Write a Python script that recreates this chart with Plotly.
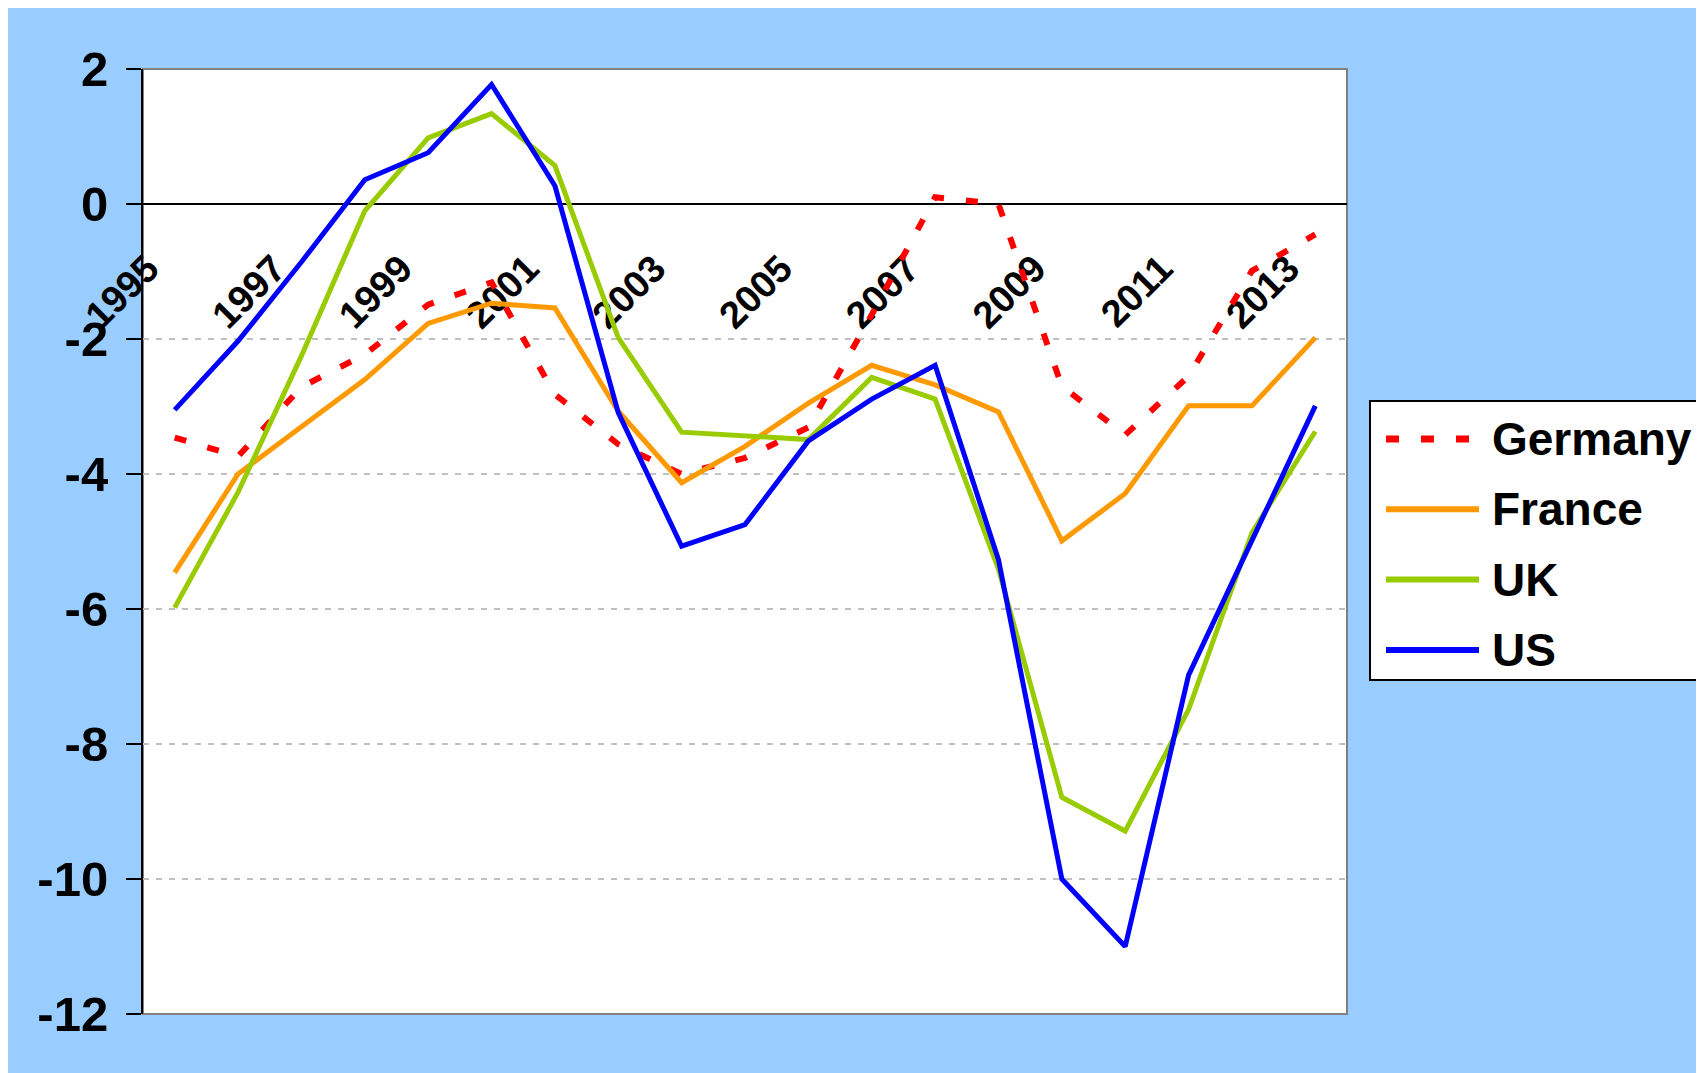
import plotly.graph_objects as go

# ---------------- data ----------------
years = [str(y) for y in range(1995, 2014)]
tick_years = years[::2]
y_ticks = [2, 0, -2, -4, -6, -8, -10, -12]

germany = [-3.46, -3.74, -2.71, -2.23, -1.49, -1.16, -2.82, -3.56, -4.00, -3.76,
           -3.31, -1.64, 0.10, 0.00, -2.70, -3.42, -2.55, -0.99, -0.45]
france = [-5.46, -4.00, -3.30, -2.60, -1.77, -1.47, -1.54, -3.07, -4.13, -3.59,
          -2.95, -2.39, -2.68, -3.08, -4.99, -4.29, -2.99, -2.99, -1.98]
uk = [-5.98, -4.27, -2.25, -0.10, 0.98, 1.34, 0.57, -1.98, -3.38, -3.43,
      -3.49, -2.57, -2.89, -5.41, -8.79, -9.29, -7.49, -4.87, -3.37]
us = [-3.05, -2.03, -0.86, 0.36, 0.76, 1.77, 0.27, -3.09, -5.07, -4.75,
      -3.51, -2.89, -2.39, -5.27, -10.00, -11.00, -6.98, -5.00, -2.99]

series_names = ["Germany", "France", "UK", "US"]
series_values = [germany, france, uk, us]

# ---------------- styles ----------------
colors = {"Germany": "#FF0000", "France": "#FF9900", "UK": "#99CC00", "US": "#0000FF"}
dashes = {"Germany": "12px,22px", "France": "solid", "UK": "solid", "US": "solid"}
widths = {"Germany": 6, "France": 5, "UK": 5, "US": 5}
legend_widths = {"Germany": 7, "France": 6, "UK": 6, "US": 6}
legend_dashes = {"Germany": "13px,22px", "France": "solid", "UK": "solid", "US": "solid"}

FONT = "Liberation Sans, Arial, sans-serif"
BG = "#99CCFF"

W, H = 1704, 1073
ML, MR, MT, MB = 135, 365, 61, 67

fig = go.Figure()
for name, vals in zip(series_names, series_values):
    fig.add_trace(go.Scatter(
        x=years, y=vals, mode="lines", name=name, showlegend=False,
        line=dict(color=colors[name], width=widths[name], dash=dashes[name]),
        hoverinfo="x+y+name",
    ))

ymin, ymax = -12, 2
zero_pos = (0 - ymin) / (ymax - ymin)

fig.update_layout(
    width=W, height=H,
    margin=dict(l=ML, r=MR, t=MT, b=MB, pad=0),
    paper_bgcolor=BG, plot_bgcolor="white",
    showlegend=False,
    font=dict(family=FONT, color="black"),
    xaxis=dict(
        type="category", categoryorder="array", categoryarray=years,
        tickmode="array", tickvals=tick_years, ticktext=tick_years,
        tickangle=-45, ticks="", showgrid=False, zeroline=False,
        showline=True, linecolor="black", linewidth=2,
        anchor="free", position=zero_pos, layer="below traces",
        ticklabelshift=-27, ticklabelstandoff=26, automargin=False,
        tickfont=dict(family=FONT, size=38, weight="bold", color="black"),
        range=[-0.5, len(years) - 0.5],
    ),
    yaxis=dict(
        range=[ymin, ymax], tickmode="array", tickvals=y_ticks,
        ticktext=[str(v) for v in y_ticks],
        showgrid=True, gridcolor="#C0C0C0", gridwidth=2, griddash="6px,7px",
        zeroline=False, showline=True, linecolor="black", linewidth=2,
        ticks="outside", ticklen=15, tickwidth=2, tickcolor="black",
        ticklabelstandoff=8, automargin=False,
        tickfont=dict(family=FONT, size=49, weight="bold", color="black"),
    ),
)

# plot-area border (gray)
fig.add_shape(type="rect", xref="paper", yref="paper", x0=0, x1=1, y0=0, y1=1,
              line=dict(color="#808080", width=2), fillcolor="rgba(0,0,0,0)", layer="below")

# ---------------- legend (drawn by hand to match the long samples) ----------------
plot_w = W - ML - MR
plot_h = H - MT - MB
def px_x(px):   # figure pixel -> paper x
    return (px - ML) / plot_w
def px_y(py):   # figure pixel (from top) -> paper y
    return (H - MB - py) / plot_h

box_l, box_r, box_t, box_b = 1362, 1692, 393, 672
fig.add_shape(type="rect", xref="paper", yref="paper",
              x0=px_x(box_l), x1=px_x(box_r), y0=px_y(box_b), y1=px_y(box_t),
              line=dict(color="black", width=2), fillcolor="white", layer="above")
row0, row_step = 431, 70.3
line_l, line_r, text_l = 1378, 1471, 1482
for i, name in enumerate(series_names):
    ry = row0 + i * row_step
    fig.add_shape(type="line", xref="paper", yref="paper",
                  x0=px_x(line_l), x1=px_x(line_r), y0=px_y(ry), y1=px_y(ry),
                  line=dict(color=colors[name], width=legend_widths[name], dash=legend_dashes[name]),
                  layer="above")
    fig.add_annotation(text=name, xref="paper", yref="paper",
                       x=px_x(text_l), y=px_y(ry), xanchor="left", yanchor="middle",
                       showarrow=False,
                       font=dict(family=FONT, size=46, weight="bold", color="black"))

fig.write_html("out.html")
